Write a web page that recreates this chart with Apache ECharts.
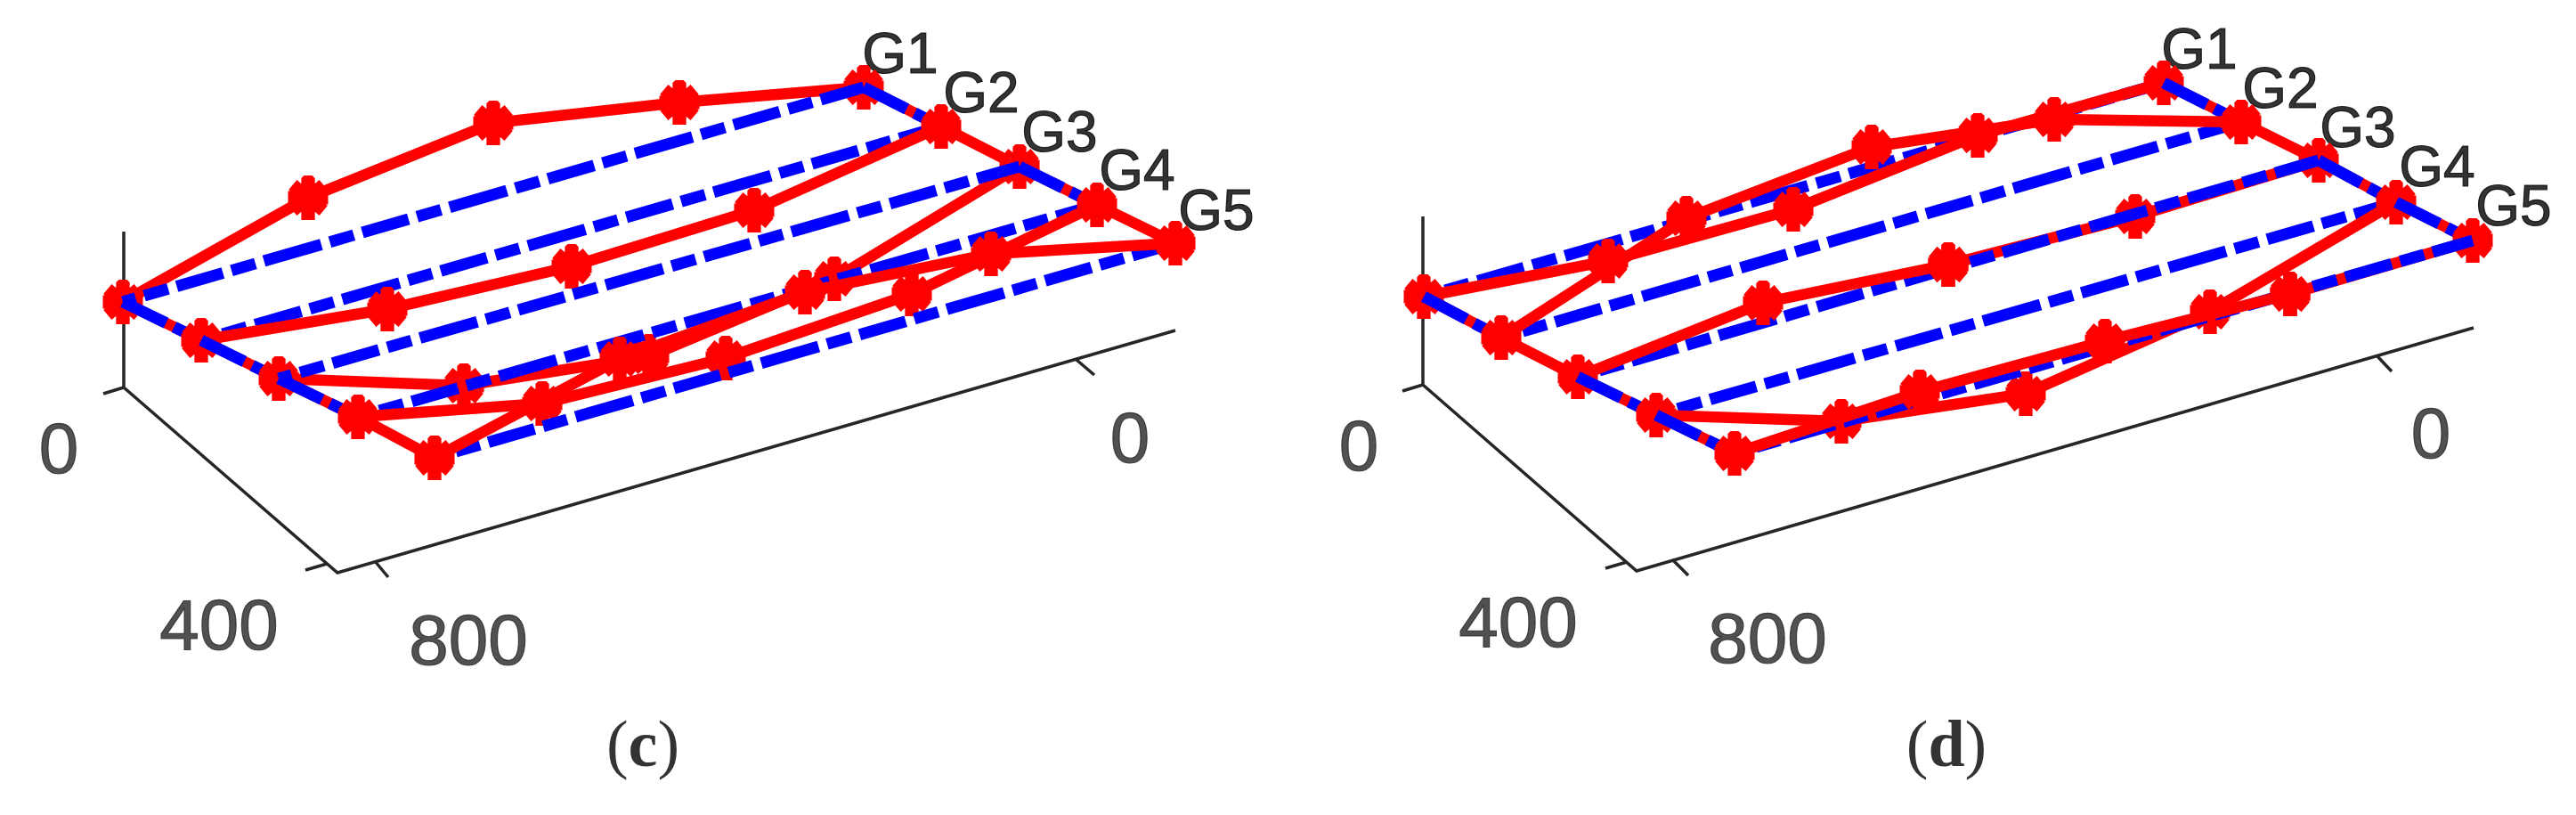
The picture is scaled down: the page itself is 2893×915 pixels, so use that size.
<!DOCTYPE html>
<html><head><meta charset="utf-8">
<style>html,body{margin:0;padding:0;background:#fff}#m{width:2893px;height:915px}</style>
<script src="https://cdn.jsdelivr.net/npm/echarts@6/dist/echarts.min.js"></script>
</head><body><div id="m"></div>
<script>
// Projected positions (view units of the panel)
const cG1 = [[138,339],[346,222],[554,138],[763,115],[970,98]];
const cG2 = [[226,382],[435,347],[642,299],[847,236],[1057,142]];
const cG3 = [[313,425],[521,433],[729,400],[937,313],[1145,187]];
const cG4 = [[402,468],[609,453],[815,402],[1024,330],[1232,230]];
const cG5 = [[488,514],[696,403],[904,328],[1113,285],[1320,273]];
const dG1 = [[1599,333],[1806,293],[2014,235],[2221,152],[2430,93]];
const dG2 = [[1686,379],[1894,245],[2102,165],[2307,134],[2517,137]];
const dG3 = [[1772,423],[1980,340],[2188,297],[2398,243],[2604,180]];
const dG4 = [[1860,466],[2068,473],[2275,442],[2482,350],[2691,227]];
const dG5 = [[1948,509],[2156,440],[2364,383],[2572,330],[2777,270]];
const cFrame = [[139,260],[139,435],[379,643],[1320,371]];
const dFrame = [[1598,243],[1598,432],[1838,641],[2778,368]];
const cTicks = [[[139,435],[116,442]],[[367,633],[343,640]],[[421,630],[436,648]],[[1209,404],[1229,421]]];
const dTicks = [[[1598,432],[1575,439]],[[1827,631],[1803,638]],[[1878,628],[1896,646]],[[2669,399],[2686,417]]];
const tickLabels = ['0','400','800','0'];
const cTickPos = [[66,509],[246,707],[526,724],[1269,497]];
const dTickPos = [[1526,506],[1705,704],[1985,722],[2730,492]];
const groupNames = ['G1','G2','G3','G4','G5'];
const cGroupPos = [[1011,64],[1102,108],[1190,152],[1277,195],[1366,240]];
const dGroupPos = [[2470,59],[2561,103],[2648,147],[2737,191],[2823,235]];
const captionLetters = ['c','d'];
const captionPos = [[722,841],[2186,841]];

const RED='#ff0000', BLUE='#0000ff', INK='#262626';
const STAR='path://M33,6L40,0L60,0L67,6L67,100L33,100ZM0,35L100,35L100,65L0,65ZM22,10L98.5,68L78,90L1.5,32ZM78,10L98.5,32L22,90L1.5,68Z';
const DASH=[67,10,28,10,54,10,28,10];

const series=[];
let zi=2;
function line(pts,color,width,extra){
  series.push(Object.assign({type:'line',data:pts,z:zi++,silent:true,animation:false,clip:false,
    symbol:'none',lineStyle:{color:color,width:width,cap:'butt',join:'miter'}},extra||{}));
}
const red=pts=>line(pts,RED,12.5,{symbol:STAR,symbolSize:[45,50],showSymbol:true,showAllSymbol:true,itemStyle:{color:RED,opacity:1}});
const link=pts=>line(pts,RED,12.5);
const blue=(pts,off)=>{
  line(pts,BLUE,13);
  const s=series[series.length-1];
  s.lineStyle.type=DASH; s.lineStyle.dashOffset=off;
};
const lane=g=>blue([g[0],g[4]],52);
const cross=(a,b,i)=>blue([a[i],b[i]],115);
function text(list,pos,font){
  series.push({type:'scatter',z:1,silent:true,animation:false,symbolSize:0,clip:false,
    data:pos.map((p,i)=>({value:p,name:list[i]})),
    label:Object.assign({show:true,position:'inside',align:'center',verticalAlign:'middle',formatter:'{b}',textBorderColor:font.color,textBorderWidth:1.2},font)});
}

// frames and ticks
[cFrame,dFrame].forEach(f=>line(f,INK,3.5));
cTicks.concat(dTicks).forEach(t=>line(t,INK,3.5));
text(tickLabels,cTickPos,{fontFamily:'Liberation Sans',fontSize:80,color:INK});
text(tickLabels,dTickPos,{fontFamily:'Liberation Sans',fontSize:80,color:INK});
text(groupNames,cGroupPos,{fontFamily:'Liberation Sans',fontSize:64,color:'#000000'});
text(groupNames,dGroupPos,{fontFamily:'Liberation Sans',fontSize:64,color:'#000000'});
series.push({type:'scatter',z:1,silent:true,animation:false,symbolSize:0,
  data:captionPos.map((p,i)=>({value:p,name:captionLetters[i]})),
  label:{show:true,position:'inside',align:'center',verticalAlign:'middle',
    formatter:p=>'{p|(}{b|'+p.name+'}{p|)}',
    rich:{p:{fontFamily:'Liberation Serif',fontSize:74,color:'#000'},b:{fontFamily:'Liberation Serif',fontSize:74,fontWeight:'bold',color:'#000'}}}});

// red rungs between neighbouring groups, under everything
[[cG1,cG2,cG3,cG4,cG5],[dG1,dG2,dG3,dG4,dG5]].forEach(P=>{
  [0,4].forEach(i=>{ for(let k=0;k<4;k++) link([P[k][i],P[k+1][i]]); });
});

// panel (c), drawing order as seen in the picture
red(cG1); lane(cG1); cross(cG1,cG2,0); cross(cG1,cG2,4);
lane(cG2); red(cG2); cross(cG2,cG3,0);
red(cG3); lane(cG3); cross(cG3,cG4,0); cross(cG3,cG4,4);
lane(cG4); red(cG4);
lane(cG5); red(cG5);

// panel (d)
lane(dG1); red(dG1); cross(dG1,dG2,0); cross(dG1,dG2,4);
lane(dG2); red(dG2);
red(dG3.slice(2)); lane(dG3); red(dG3.slice(0,3));
cross(dG3,dG4,0); cross(dG3,dG4,4);
lane(dG4); red(dG4); cross(dG4,dG5,0); cross(dG4,dG5,4);
red(dG5.slice(3)); lane(dG5); red(dG5.slice(0,4));

const chart=echarts.init(document.getElementById('m'),null,{renderer:'canvas'});
chart.setOption({
  animation:false,backgroundColor:'#fff',
  grid:{left:0,right:0,top:0,bottom:0},
  xAxis:{type:'value',min:0,max:2893,show:false},
  yAxis:{type:'value',min:0,max:915,inverse:true,show:false},
  tooltip:{show:false},
  series:series
});
</script></body></html>
